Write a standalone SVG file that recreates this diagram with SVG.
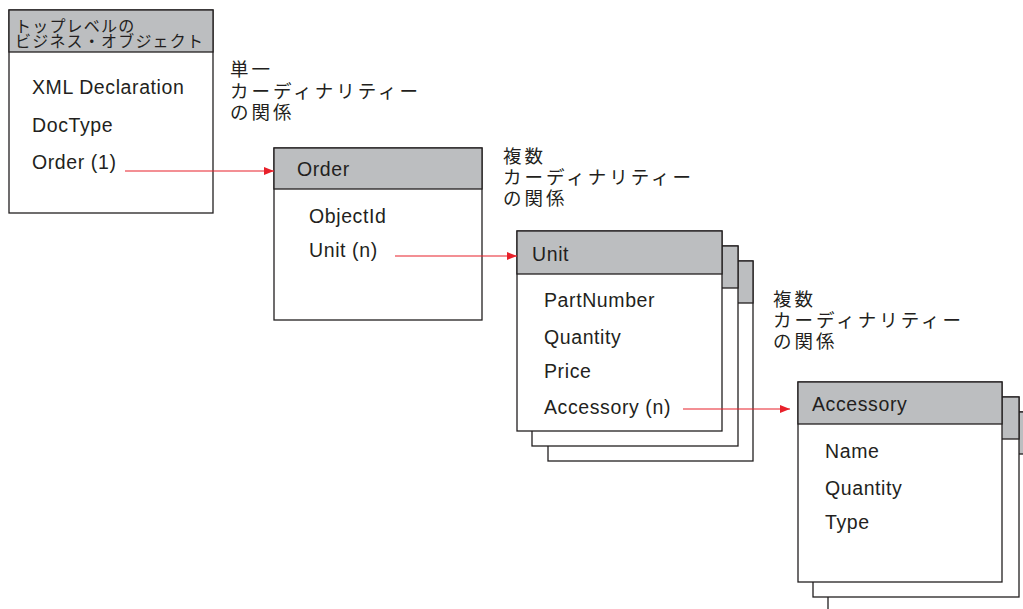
<svg xmlns="http://www.w3.org/2000/svg" width="1023" height="609" viewBox="0 0 1023 609">
<defs>
<style>
.box{fill:#fff;stroke:#231f20;stroke-width:1.3}
.hdr{fill:#bcbec0;stroke:#231f20;stroke-width:1.3}
.t{font-family:"Liberation Sans",Arial,sans-serif;font-size:19.5px;letter-spacing:0.6px;fill:#231f20}
.j{font-family:"Noto Sans CJK JP","Noto Sans",sans-serif;font-size:18.5px;letter-spacing:3px;fill:#231f20}
.jh{font-family:"Noto Sans CJK JP","Noto Sans",sans-serif;font-size:16px;letter-spacing:1.2px;fill:#231f20}
.c{stroke:#e8202a;stroke-width:1.2;fill:none}
</style>
<marker id="ah" viewBox="0 0 10 8" refX="10" refY="4" markerWidth="10" markerHeight="8" markerUnits="userSpaceOnUse" orient="auto">
<path d="M0,0 L10,4 L0,8 z" fill="#e8202a"/>
</marker>
</defs>
<rect width="1023" height="609" fill="#fff"/>

<g id="toplevel">
<rect class="box" x="9" y="10" width="204" height="203"/>
<rect class="hdr" x="9" y="10" width="204" height="42"/>
<text class="jh"><tspan x="15" y="32">トップレベルの</tspan><tspan x="15" y="47">ビジネス・オブジェクト</tspan></text>
<text class="t" x="32" y="94">XML Declaration</text>
<text class="t" x="32" y="132">DocType</text>
<text class="t" x="32" y="169">Order (1)</text>
</g>

<g id="label1">
<text class="j"><tspan x="230" y="76">単一</tspan><tspan x="230" y="98">カーディナリティー</tspan><tspan x="230" y="119">の関係</tspan></text>
</g>

<g id="order">
<rect class="box" x="274" y="148" width="208" height="172"/>
<rect class="hdr" x="274" y="148" width="208" height="41"/>
<text class="t" x="297" y="176">Order</text>
<text class="t" x="309" y="223">ObjectId</text>
<text class="t" x="309" y="257">Unit (n)</text>
</g>

<g id="label2">
<text class="j"><tspan x="503" y="163">複数</tspan><tspan x="503" y="184">カーディナリティー</tspan><tspan x="503" y="205">の関係</tspan></text>
</g>

<g id="unit">
<rect class="box" x="548" y="261" width="205" height="200"/>
<rect class="hdr" x="548" y="261" width="205" height="42"/>
<rect class="box" x="532" y="246" width="206" height="200"/>
<rect class="hdr" x="532" y="246" width="206" height="42"/>
<rect class="box" x="517" y="231" width="205" height="200"/>
<rect class="hdr" x="517" y="231" width="205" height="43"/>
<text class="t" x="532" y="261">Unit</text>
<text class="t" x="544" y="307">PartNumber</text>
<text class="t" x="544" y="344">Quantity</text>
<text class="t" x="544" y="378">Price</text>
<text class="t" x="544" y="414">Accessory (n)</text>
</g>

<g id="label3">
<text class="j"><tspan x="773" y="306">複数</tspan><tspan x="773" y="327">カーディナリティー</tspan><tspan x="773" y="348">の関係</tspan></text>
</g>

<g id="accessory">
<rect class="box" x="828" y="412" width="206" height="200"/>
<rect class="hdr" x="828" y="412" width="206" height="42"/>
<rect class="box" x="813" y="397" width="206" height="200"/>
<rect class="hdr" x="813" y="397" width="206" height="42"/>
<rect class="box" x="798" y="382" width="204" height="200"/>
<rect class="hdr" x="798" y="382" width="204" height="42"/>
<text class="t" x="812" y="411">Accessory</text>
<text class="t" x="825" y="458">Name</text>
<text class="t" x="825" y="495">Quantity</text>
<text class="t" x="825" y="529">Type</text>
</g>

<g id="connectors">
<line class="c" x1="125" y1="171" x2="274" y2="171" marker-end="url(#ah)"/>
<line class="c" x1="395" y1="256" x2="517" y2="256" marker-end="url(#ah)"/>
<line class="c" x1="683" y1="409" x2="790" y2="409" marker-end="url(#ah)"/>
</g>
</svg>
